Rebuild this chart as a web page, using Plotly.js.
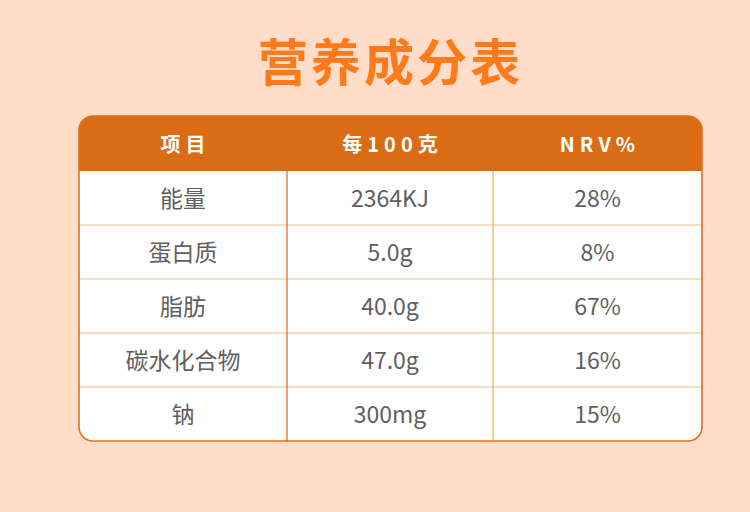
<!DOCTYPE html>
<html>
<head>
<meta charset="utf-8">
<script src="https://cdn.plot.ly/plotly-3.0.1.min.js"></script>
<style>html,body{margin:0;padding:0;background:#FFDDC8;}#chart{width:750px;height:512px;}</style>
</head>
<body>
<div id="chart"></div>
<script>
// ---- data ----
const headers = ['项目', '每100克', 'NRV%'];
const items = ['能量', '蛋白质', '脂肪', '碳水化合物', '钠'];
const per100 = ['2364KJ', '5.0g', '40.0g', '47.0g', '300mg'];
const nrv = ['28%', '8%', '67%', '16%', '15%'];
const titleText = '营养成分表';

// ---- layout constants ----
const W = 750, H = 512;
const tLeft = 79, tRight = 702, tTop = 116;
const headH = 55, rowH = 54;
const colW = [208, 206, 209];
const tBottom = tTop + headH + rowH * items.length;
const bg = '#FFDDC8';
const headShift = 4.5, bodyShift = -5;
const px = v => v / W;
const py = v => 1 - v / H;
const font = '"Noto Sans CJK SC", "Noto Sans", sans-serif';
const clear = 'rgba(0,0,0,0)';

const spaced = (s, sp) => Array.from(s).join(sp);

const headerTrace = {
  type: 'table',
  domain: { x: [px(tLeft), px(tRight)], y: [py(tTop + headH + headShift + 4), py(tTop + headShift)] },
  columnwidth: colW,
  header: {
    values: headers.map(h => '<b>' + spaced(h, '\u2005') + '</b>'),
    align: 'center',
    height: headH,
    fill: { color: clear },
    line: { color: clear, width: 0 },
    font: { family: font, size: 20, color: '#FFFFFF' }
  },
  cells: { values: [] }
};

const bodyTrace = {
  type: 'table',
  domain: { x: [px(tLeft), px(tRight)], y: [py(tBottom + 30), py(tTop + headH + bodyShift)] },
  columnwidth: colW,
  header: { values: [], height: 0, fill: { color: clear }, line: { color: clear, width: 0 } },
  cells: {
    values: [items, per100, nrv],
    align: 'center',
    height: rowH,
    fill: { color: clear },
    line: { color: clear, width: 0 },
    font: { family: font, size: 23, color: '#606060' }
  }
};

const shapes = [];
shapes.push({ type: 'rect', xref: 'paper', yref: 'paper', x0: px(tLeft), x1: px(tRight), y0: py(tTop + headH), y1: py(tTop),
  fillcolor: '#D96C14', line: { width: 0 }, layer: 'below' });
shapes.push({ type: 'rect', xref: 'paper', yref: 'paper', x0: px(tLeft), x1: px(tRight), y0: py(tBottom), y1: py(tTop + headH),
  fillcolor: '#FFFFFF', line: { width: 0 }, layer: 'below' });

const r = 14, k = 0.5523;
function mask(cx, cy, sx, sy) {
  const e = 2;
  const a = [cx + sx * r, cy];
  const b = [cx, cy + sy * r];
  const c1 = [cx + sx * r * (1 - k), cy];
  const c2 = [cx, cy + sy * r * (1 - k)];
  const path = `M${px(cx - sx * e)},${py(cy - sy * e)} L${px(a[0])},${py(cy - sy * e)} L${px(a[0])},${py(a[1])} ` +
    `C${px(c1[0])},${py(c1[1])} ${px(c2[0])},${py(c2[1])} ${px(b[0])},${py(b[1])} L${px(cx - sx * e)},${py(b[1])} Z`;
  shapes.push({ type: 'path', xref: 'paper', yref: 'paper', path, fillcolor: bg, line: { width: 0 }, layer: 'above' });
}
mask(tLeft, tTop, 1, 1);
mask(tRight, tTop, -1, 1);
mask(tLeft, tBottom, 1, -1);
mask(tRight, tBottom, -1, -1);

for (let i = 1; i < items.length; i++) {
  const y = tTop + headH + rowH * i;
  shapes.push({ type: 'line', xref: 'paper', yref: 'paper', x0: px(tLeft), x1: px(tRight), y0: py(y), y1: py(y),
    line: { color: '#E6C38E', width: 1.2 }, layer: 'above' });
}
const vColors = ['#E07222', '#F0B468'];
let acc = tLeft;
const totalW = colW.reduce((a, b) => a + b, 0);
for (let j = 0; j < colW.length - 1; j++) {
  acc += colW[j] * (tRight - tLeft) / totalW;
  shapes.push({ type: 'line', xref: 'paper', yref: 'paper', x0: px(acc), x1: px(acc), y0: py(tTop + headH), y1: py(tBottom),
    line: { color: vColors[j], width: 1.3 }, layer: 'above' });
}
function rr(x0, y0, x1, y1) {
  const q = r * (1 - k);
  return `M${px(x0 + r)},${py(y0)} L${px(x1 - r)},${py(y0)} ` +
    `C${px(x1 - q)},${py(y0)} ${px(x1)},${py(y0 + q)} ${px(x1)},${py(y0 + r)} ` +
    `L${px(x1)},${py(y1 - r)} C${px(x1)},${py(y1 - q)} ${px(x1 - q)},${py(y1)} ${px(x1 - r)},${py(y1)} ` +
    `L${px(x0 + r)},${py(y1)} C${px(x0 + q)},${py(y1)} ${px(x0)},${py(y1 - q)} ${px(x0)},${py(y1 - r)} ` +
    `L${px(x0)},${py(y0 + r)} C${px(x0)},${py(y0 + q)} ${px(x0 + q)},${py(y0)} ${px(x0 + r)},${py(y0)} Z`;
}
shapes.push({ type: 'path', xref: 'paper', yref: 'paper', path: rr(tLeft, tTop, tRight, tBottom),
  fillcolor: clear, line: { color: '#E07020', width: 1.6 }, layer: 'above' });

const layout = {
  width: W, height: H,
  margin: { l: 0, r: 0, t: 0, b: 0 },
  paper_bgcolor: bg, plot_bgcolor: bg,
  showlegend: false,
  title: {
    text: '<b>' + spaced(titleText, '\u200A') + '</b>',
    x: 389 / W, xanchor: 'center', xref: 'paper',
    y: py(63), yanchor: 'middle', yref: 'paper',
    font: { family: font, size: 50, color: '#FF7A1A' }
  },
  shapes
};

Plotly.newPlot('chart', [headerTrace, bodyTrace], layout, { displayModeBar: false, staticPlot: true });
</script>
</body>
</html>
